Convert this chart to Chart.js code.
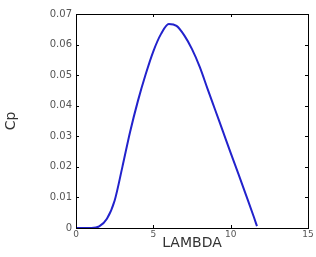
<!DOCTYPE html>
<html><head><meta charset="utf-8">
<script src="https://cdn.jsdelivr.net/npm/chart.js@4/dist/chart.umd.min.js"></script>
<style>html,body{margin:0;padding:0;background:#fff}#wrap{width:316px;height:257px}</style>
</head><body><div id="wrap"><canvas id="c" width="316" height="257"></canvas></div>
<script>
const lambdaValues = [0, 0.5, 1, 1.5, 2, 2.5, 3, 3.5, 4, 4.5, 5, 5.5, 6, 6.5, 7, 7.5, 8, 8.5, 9, 9.5, 10, 10.5, 11, 11.5, 11.7];
const cpValues = [0, 0, 0, 0.0005, 0.003, 0.009, 0.020, 0.0315, 0.0415, 0.0502, 0.0578, 0.0635, 0.0667, 0.0661, 0.0630, 0.0585, 0.0527, 0.0456, 0.0386, 0.0316, 0.0246, 0.0177, 0.0107, 0.0036, 0.0006];
const xTicks = [0, 5, 10, 15];
const yTicks = [0, 0.01, 0.02, 0.03, 0.04, 0.05, 0.06, 0.07];
const xTitle = 'LAMBDA';
const yTitle = 'Cp';

const boxPlugin = {
  id: 'box',
  afterDraw(chart) {
    const a = chart.chartArea, ctx = chart.ctx;
    ctx.save();
    ctx.strokeStyle = '#000';
    ctx.lineWidth = 1;
    ctx.strokeRect(a.left + 0.5, a.top + 0.5, a.right - a.left, a.bottom - a.top);
    const xs = chart.scales.x, ys = chart.scales.y;
    ctx.beginPath();
    xTicks.forEach(v => {
      const p = Math.round(xs.getPixelForValue(v)) + 0.5;
      ctx.moveTo(p, a.bottom); ctx.lineTo(p, a.bottom - 3);
      ctx.moveTo(p, a.top); ctx.lineTo(p, a.top + 3);
    });
    yTicks.forEach(v => {
      const p = Math.round(ys.getPixelForValue(v)) + 0.5;
      ctx.moveTo(a.left, p); ctx.lineTo(a.left + 3, p);
      ctx.moveTo(a.right, p); ctx.lineTo(a.right - 3, p);
    });
    ctx.stroke();
    ctx.restore();
  }
};

new Chart(document.getElementById('c'), {
  type: 'line',
  data: {
    datasets: [{
      data: lambdaValues.map((x, i) => ({x, y: cpValues[i]})),
      borderColor: '#2222cc',
      borderWidth: 2,
      pointRadius: 0,
      fill: false,
      cubicInterpolationMode: 'monotone'
    }]
  },
  options: {
    responsive: false,
    animation: false,
    layout: {padding: {left: 0, right: 8, top: 14, bottom: 0}},
    plugins: {legend: {display: false}, tooltip: {enabled: false}},
    scales: {
      x: {
        type: 'linear', min: 0, max: 15,
        afterBuildTicks(s) { s.ticks = xTicks.map(v => ({value: v})); },
        afterFit(s) { s.height = 29; },
        grid: {display: false, drawTicks: false},
        border: {display: false},
        ticks: {padding: 1, font: {family: 'DejaVu Sans', size: 9}, color: '#555', maxRotation: 0},
        title: {display: true, text: xTitle, font: {family: 'DejaVu Sans', size: 14}, color: '#333', padding: {top: 0, bottom: 5}}
      },
      y: {
        type: 'linear', min: 0, max: 0.07,
        afterBuildTicks(s) { s.ticks = yTicks.map(v => ({value: v})); },
        afterFit(s) { s.width = 76; },
        grid: {display: false, drawTicks: false},
        border: {display: false},
        ticks: {padding: 4, font: {family: 'DejaVu Sans', size: 10}, color: '#555',
          callback: v => String(+v.toFixed(2))},
        title: {display: true, text: yTitle, font: {family: 'DejaVu Sans', size: 14}, color: '#333', padding: {top: 3, bottom: 0}}
      }
    }
  },
  plugins: [boxPlugin]
});
</script>
</body></html>
